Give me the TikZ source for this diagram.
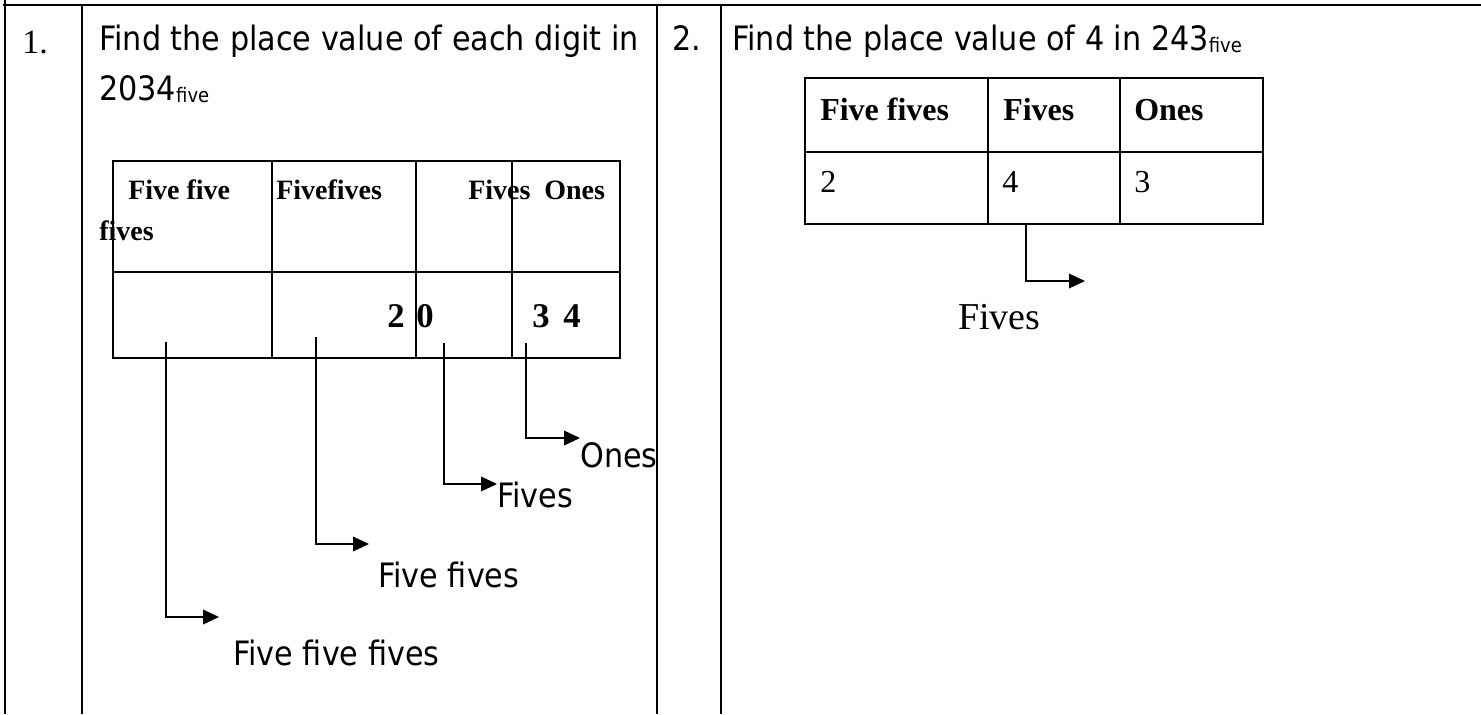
\documentclass[tikz,border=0pt]{standalone}
\usepackage{fontspec}
\setmainfont{Liberation Serif}
\newfontfamily\tah[FakeStretch=0.9]{DejaVu Sans}
\usetikzlibrary{arrows.meta}
\begin{document}
\begin{tikzpicture}[x=0.75pt,y=-0.75pt,
  frameline/.style={line width=1.5pt},
  tabline/.style={line width=1.5pt},
  conn/.style={line width=1pt,-{Triangle[length=12pt,width=11pt]}},
  sans/.style={anchor=base west,inner sep=0pt,font=\tah\fontsize{25.2}{30}\selectfont},
  numlbl/.style={anchor=base west,inner sep=0pt,font=\fontsize{25.5}{30}\selectfont},
  hdA/.style={anchor=base west,inner sep=0pt,font=\bfseries\fontsize{21}{25}\selectfont},
  digA/.style={anchor=base west,inner sep=0pt,font=\bfseries\fontsize{26}{30}\selectfont},
  hdB/.style={anchor=base west,inner sep=0pt,font=\bfseries\fontsize{24}{28}\selectfont},
  digB/.style={anchor=base west,inner sep=0pt,font=\fontsize{24}{28}\selectfont},
  bigser/.style={anchor=base west,inner sep=0pt,font=\fontsize{28.5}{33}\selectfont}
]
\useasboundingbox (0,0) rectangle (1481,714);
% outer frame
\draw[frameline] (3,5) -- (1481,5);
\draw[frameline] (5,0) -- (5,714);
\draw[frameline] (82,5) -- (82,714);
\draw[frameline] (657,5) -- (657,714);
\draw[frameline] (721,5) -- (721,714);

% numbers and titles
\node[numlbl] (n1) at (22,53) {1.};
\node[sans] (t1a) at (99,50) {Find the place value of each digit in};
\node[sans] (t1b) at (99,100) {2034\raisebox{-2pt}{\fontsize{15}{18}\selectfont five}};
\node[sans] (n2) at (672,50) {2.};
\node[sans] (t2) at (732,50) {Find the place value of 4 in 243\raisebox{-2pt}{\fontsize{15}{18}\selectfont five}};

% table 1
\draw[tabline] (112.7,161) rectangle (620,358);
\draw[tabline] (112.7,272) -- (620,272);
\draw[tabline] (272,161) -- (272,358);
\draw[tabline] (416,161) -- (416,358);
\draw[tabline] (512,161) -- (512,358);
\node[hdA] (h11) at (128,199) {Five five};
\node[hdA] (h11b) at (99,240) {fives};
\node[hdA] (h12) at (276,199) {Fivefives};
\node[hdA] (h13) at (468,199) {Fives};
\node[hdA] (h14) at (544,199) {Ones};
\node[digA] (d2) at (387,327) {2};
\node[digA] (d0) at (416,327) {0};
\node[digA] (d3) at (532,327) {3};
\node[digA] (d4) at (563,327) {4};

% connectors table 1
\coordinate (s1) at (166,342); \coordinate (e1) at (219,617);
\coordinate (s2) at (316,337); \coordinate (e2) at (369,544);
\coordinate (s3) at (444,343); \coordinate (e3) at (497,484);
\coordinate (s4) at (526,343); \coordinate (e4) at (580,438);
\draw[conn] (s1) |- (e1);
\draw[conn] (s2) |- (e2);
\draw[conn] (s3) |- (e3);
\draw[conn] (s4) |- (e4);
\node[sans] (l1) at (233,665) {Five five fives};
\node[sans] (l2) at (378,587) {Five fives};
\node[sans] (l3) at (497,507) {Fives};
\node[sans] (l4) at (580,467) {Ones};

% table 2
\draw[tabline] (805,78) rectangle (1263,224);
\draw[tabline] (805,152) -- (1263,152);
\draw[tabline] (988,78) -- (988,224);
\draw[tabline] (1120,78) -- (1120,224);
\node[hdB] (g1) at (820,120) {Five fives};
\node[hdB] (g2) at (1003,120) {Fives};
\node[hdB] (g3) at (1134,120) {Ones};
\node[digB] (c1) at (820,192) {2};
\node[digB] (c2) at (1002,192) {4};
\node[digB] (c3) at (1134,192) {3};
\coordinate (s5) at (1026,224); \coordinate (e5) at (1085,281);
\draw[conn] (s5) |- (e5);
\node[bigser] (l5) at (958,329) {Fives};
\end{tikzpicture}
\end{document}
